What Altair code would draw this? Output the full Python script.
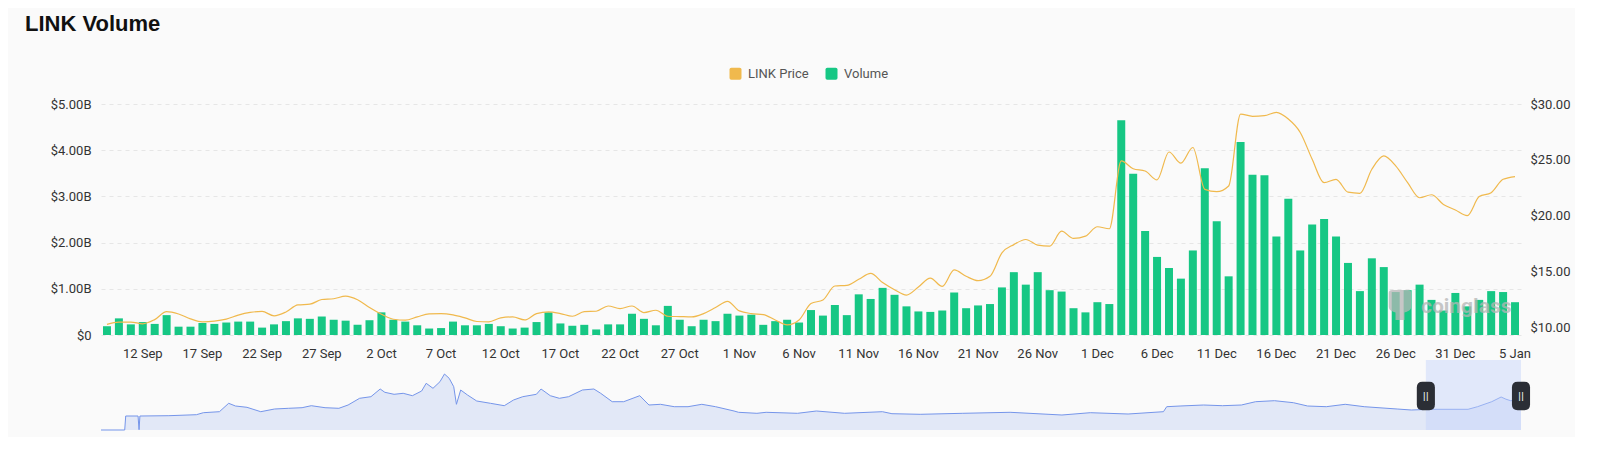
import altair as alt
import pandas as pd

# ---------------- data ----------------
start_date = "2024-09-09"
end_date = "2025-01-05"

volume_billion = [
    # Sep 9 - Sep 30
    0.19, 0.36, 0.23, 0.28, 0.24, 0.43, 0.18, 0.18, 0.26, 0.24, 0.27, 0.29, 0.29, 0.16, 0.23, 0.30,
    0.36, 0.35, 0.40, 0.33, 0.31, 0.22,
    # Oct
    0.32, 0.49, 0.33, 0.29, 0.21, 0.14, 0.15, 0.29, 0.21, 0.21, 0.24, 0.19, 0.14, 0.16, 0.28, 0.49,
    0.25, 0.20, 0.22, 0.12, 0.23, 0.23, 0.46, 0.35, 0.21, 0.63, 0.33, 0.19, 0.33, 0.30, 0.46,
    # Nov
    0.42, 0.44, 0.22, 0.30, 0.33, 0.27, 0.54, 0.42, 0.65, 0.43, 0.88, 0.78, 1.02, 0.87, 0.62, 0.51,
    0.50, 0.53, 0.92, 0.58, 0.64, 0.67, 1.03, 1.36, 1.09, 1.36, 0.97, 0.94, 0.58, 0.49,
    # Dec
    0.71, 0.67, 4.65, 3.49, 2.25, 1.69, 1.45, 1.22, 1.83, 3.61, 2.46, 1.27, 4.18, 3.47, 3.46, 2.13,
    2.95, 1.83, 2.39, 2.51, 2.13, 1.56, 0.95, 1.66, 1.47, 0.93, 0.97, 1.09, 0.76, 0.53, 0.91,
    # Jan
    0.62, 0.76, 0.95, 0.93, 0.71,
]

price_usd = [
    # Sep 9 - Sep 30
    10.25, 10.46, 10.46, 10.30, 10.68, 11.39, 11.18, 10.75, 10.48, 10.54, 10.72, 11.08, 11.32, 11.41,
    11.02, 11.36, 12.00, 12.06, 12.48, 12.55, 12.79, 12.46,
    # Oct
    11.76, 11.16, 10.71, 10.63, 10.92, 11.19, 11.22, 11.10, 10.83, 10.51, 10.48, 10.83, 10.92, 10.65,
    11.22, 11.37, 11.22, 10.98, 11.40, 11.43, 11.90, 11.67, 11.90, 11.31, 11.52, 10.98, 10.95, 10.92,
    11.22, 11.76, 12.32,
    # Nov
    11.46, 11.22, 11.13, 10.65, 10.21, 10.65, 12.12, 12.44, 13.69, 13.75, 14.29, 14.82, 14.00, 13.36,
    12.88, 13.60, 14.40, 13.66, 15.13, 14.56, 14.17, 14.56, 16.66, 17.40, 17.86, 17.35, 17.26, 18.60,
    17.95, 18.16,
    # Dec
    19.00, 18.82, 24.90, 24.20, 24.00, 23.20, 25.70, 24.70, 26.10, 22.35, 22.14, 22.65, 29.10, 28.90,
    28.95, 29.25, 28.65, 27.45, 25.05, 22.95, 23.25, 22.10, 22.00, 24.15, 25.35, 24.45, 22.95, 21.60,
    21.87, 21.00, 20.50,
    # Jan
    20.00, 21.70, 22.05, 23.25, 23.50,
]

tick_labels = ["12 Sep", "17 Sep", "22 Sep", "27 Sep", "2 Oct", "7 Oct", "12 Oct", "17 Oct",
               "22 Oct", "27 Oct", "1 Nov", "6 Nov", "11 Nov", "16 Nov", "21 Nov", "26 Nov",
               "1 Dec", "6 Dec", "11 Dec", "16 Dec", "21 Dec", "26 Dec", "31 Dec", "5 Jan"]

volume_ticks = [0, 1e9, 2e9, 3e9, 4e9, 5e9]
price_ticks = [10, 15, 20, 25, 30]

# overview (data-zoom) strip: position along the full history (%) and line level
overview_pos = [0.0, 1.67, 1.74, 2.61, 2.68, 2.74, 4.78, 6.72, 7.21, 8.34, 8.99, 9.47, 10.28, 11.25,
                12.22, 13.19, 14.16, 14.81, 15.78, 16.75, 17.4, 18.21, 19.01, 19.66, 19.99, 20.64,
                21.28, 21.93, 22.58, 22.9, 23.38, 23.87, 24.19, 24.52, 24.84, 25.03, 25.33, 25.81,
                26.46, 27.43, 28.4, 29.05, 29.7, 30.66, 30.99, 31.64, 32.28, 32.93, 33.9, 34.71,
                35.19, 36.0, 36.81, 37.94, 38.59, 39.4, 40.37, 41.34, 42.31, 43.28, 44.58, 44.9,
                46.19, 46.84, 49.05, 50.38, 52.37, 55.03, 55.7, 57.69, 60.69, 64.02, 67.67, 69.67,
                72.33, 74.82, 75.05, 75.99, 77.65, 78.98, 80.31, 81.31, 82.64, 83.97, 84.97, 86.29,
                87.62, 88.96, 91.28, 92.28, 93.62, 96.27, 96.94, 97.94, 98.6, 98.94, 99.27, 100.0]
overview_level = [0.0, 0.0, 14.0, 14.0, 0.3, 14.0, 14.3, 15.3, 17.3, 18.3, 26.7, 24.0, 22.7, 18.3,
                  21.0, 21.7, 22.3, 24.3, 22.3, 21.7, 25.0, 31.7, 33.3, 41.0, 37.7, 35.7,
                  36.7, 34.3, 39.0, 46.7, 41.7, 48.3, 56.0, 51.7, 43.3, 25.7, 40.0, 35.0,
                  29.0, 26.7, 24.3, 30.0, 33.3, 35.7, 41.0, 34.3, 31.7, 33.3, 40.0, 41.0,
                  36.7, 28.3, 28.3, 34.3, 25.0, 25.7, 23.3, 23.3, 25.7, 23.3, 19.0, 17.7,
                  16.7, 17.7, 16.7, 19.0, 16.7, 18.3, 16.3, 15.7, 16.7, 17.7, 15.0, 17.3,
                  16.0, 18.3, 23.3, 24.0, 25.0, 24.3, 25.0, 28.3, 29.3, 27.3, 24.0, 23.3,
                  25.7, 23.3, 21.0, 20.0, 20.7, 20.7, 23.3, 28.3, 33.0, 30.8, 29.3, 29.8]
window_range = [93.3, 100.0]

# ---------------- styling ----------------
GREEN = "#16c784"
GOLD = "#f0b94d"
FONT = "Roboto"
ROUNDED_SQUARE = ("M -0.7 -1 L 0.7 -1 Q 1 -1 1 -0.7 L 1 0.7 Q 1 1 0.7 1 L -0.7 1 "
                  "Q -1 1 -1 0.7 L -1 -0.7 Q -1 -1 -0.7 -1 Z")
HANDLE = ("M -0.64 -0.6 Q -0.64 -1 -0.24 -1 L 0.24 -1 Q 0.64 -1 0.64 -0.6 L 0.64 0.6 "
          "Q 0.64 1 0.24 1 L -0.24 1 Q -0.64 1 -0.64 0.6 Z")
LOGO = ("M -0.75 -0.8 Q -0.75 -1 -0.5 -1 L 0.5 -1 Q 0.75 -1 0.75 -0.8 L 0.75 0.1 "
        "Q 0.75 0.35 0.45 0.45 L 0.3 0.5 L 0.3 1 L -0.3 1 L -0.3 0.5 L -0.45 0.45 "
        "Q -0.75 0.35 -0.75 0.1 Z")

PLOT_W = 1420
PLOT_H = 231

dates = pd.date_range(start_date, end_date, freq="D")
labels = [f"{d.day} {d.strftime('%b')}" for d in dates]
df = pd.DataFrame({
    "label": labels,
    "volume": [v * 1e9 for v in volume_billion],
    "price": price_usd,
    "series": ["Volume"] * len(labels),
})

x_enc = alt.X(
    "label:N", sort=None,
    scale=alt.Scale(paddingInner=0.33, paddingOuter=0.165),
    axis=alt.Axis(values=tick_labels, title=None, labelAngle=0, domain=False, ticks=False,
                  labelPadding=12, labelFontSize=13, labelColor="#333333", labelFont=FONT,
                  grid=False),
)

bars = alt.Chart(df).mark_bar().encode(
    x=x_enc,
    y=alt.Y("volume:Q",
            scale=alt.Scale(domain=[0, 5e9], nice=False),
            axis=alt.Axis(values=volume_ticks, title=None, domain=False, ticks=False,
                          labelExpr="datum.value == 0 ? '$0' : '$' + format(datum.value / 1e9, '.2f') + 'B'",
                          labelPadding=10, labelFontSize=13, labelColor="#333333", labelFont=FONT,
                          gridColor="#e6e6e6", gridDash=[4, 4], gridWidth=1)),
    color=alt.Color("series:N",
                    scale=alt.Scale(domain=["LINK Price", "Volume"], range=[GOLD, GREEN]),
                    legend=alt.Legend(orient="none", legendX=628, legendY=-37,
                                      direction="horizontal", title=None,
                                      symbolType=ROUNDED_SQUARE, symbolSize=144,
                                      symbolStrokeWidth=0, symbolOpacity=1,
                                      labelFontSize=13, labelColor="#555555", labelFont=FONT,
                                      labelOffset=6, columnPadding=16, padding=0)),
)

line = alt.Chart(df).mark_line(color=GOLD, strokeWidth=1.2, interpolate="monotone").encode(
    x=x_enc,
    y=alt.Y("price:Q",
            scale=alt.Scale(domain=[9.3, 30], nice=False, zero=False),
            axis=alt.Axis(orient="right", values=price_ticks, format="$.2f", title=None,
                          grid=False, domain=False, ticks=False, labelPadding=9,
                          labelFontSize=13, labelColor="#333333", labelFont=FONT)),
)

wm_df = pd.DataFrame({"t": ["coinglass"]})
watermark = alt.Chart(wm_df).mark_text(
    font=FONT, fontSize=21, fontWeight="bold", color="#b5b5b5", opacity=0.75,
    align="left", baseline="middle",
).encode(text="t:N", x=alt.value(1320), y=alt.value(203))
logo = alt.Chart(wm_df).mark_point(
    shape=LOGO, size=900, filled=True, color="#b5b5b5", opacity=0.75,
).encode(x=alt.value(1299), y=alt.value(201))

main = alt.layer(bars, line, watermark, logo).resolve_scale(y="independent").properties(
    width=PLOT_W, height=PLOT_H)

ov = pd.DataFrame({"pos": overview_pos, "level": overview_level})
ov_x = alt.X("pos:Q", scale=alt.Scale(domain=[0, 100], nice=False, zero=False), axis=None)
area = alt.Chart(ov).mark_area(
    color="#e2e8f7", opacity=1, line={"color": "#7595ea", "strokeWidth": 1},
).encode(x=ov_x, y=alt.Y("level:Q", scale=alt.Scale(domain=[0, 70], nice=False), axis=None))

win = alt.Chart(pd.DataFrame({"start": [window_range[0]], "end": [window_range[1]]})).mark_rect(
    color="#c3d3fa", opacity=0.45,
).encode(x=alt.X("start:Q", scale=alt.Scale(domain=[0, 100], nice=False), axis=None),
         x2="end:Q", y=alt.value(0), y2=alt.value(70))

hdf = pd.DataFrame({"pos": window_range, "g": ["||", "||"]})
handles = alt.Chart(hdf).mark_point(
    shape=HANDLE, size=800, filled=True, color="#2b2e35", opacity=1,
).encode(x=ov_x, y=alt.value(36))
handle_txt = alt.Chart(hdf).mark_text(
    color="#ffffff", fontSize=9, font="DejaVu Sans", baseline="middle",
).encode(x=ov_x, y=alt.value(36), text="g:N")

mini = alt.layer(area, win, handles, handle_txt).properties(width=PLOT_W, height=70)

chart = alt.vconcat(main, mini, spacing=0).properties(
    title=alt.TitleParams("LINK Volume", anchor="start", frame="group", fontSize=22,
                          font="Liberation Sans", fontWeight="bold", color="#111111",
                          dx=-76, offset=31),
    padding={"left": 17, "top": 5, "right": 5, "bottom": 5},
    background="#fafafa",
).configure_view(stroke=None)

chart.save("out.html", embed_options={"renderer": "svg", "actions": False})
